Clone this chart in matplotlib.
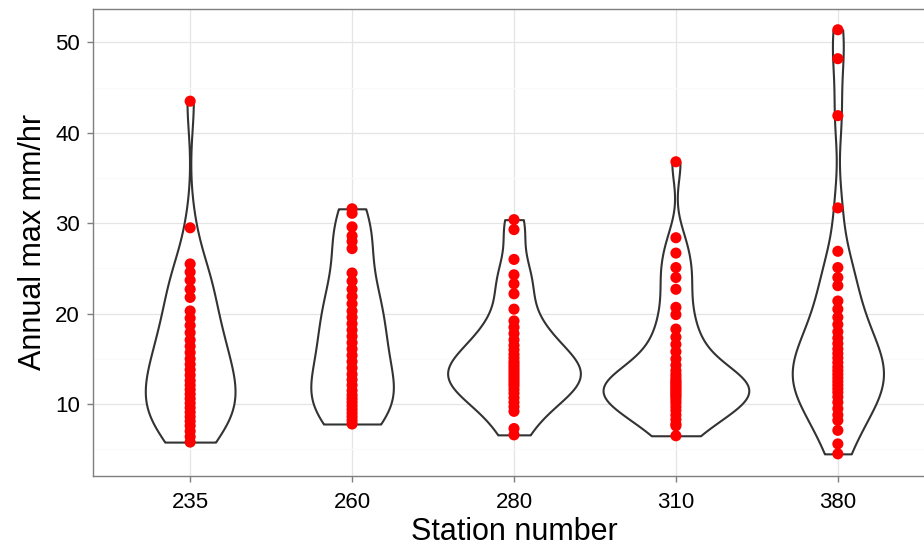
import numpy as np
import matplotlib.pyplot as plt
from matplotlib import cbook

plt.rcParams['font.family'] = ['Liberation Sans', 'DejaVu Sans']

# Annual maximum rainfall intensity (mm/hr) per station
stations = ['235', '260', '280', '310', '380']

s235 = [43.5, 29.5, 25.5, 24.6, 23.7, 22.7, 21.8, 20.3, 19.5, 18.7, 17.9, 17.1,
        16.4, 15.7, 15.0, 14.4, 13.8, 13.2, 12.6, 12.1, 11.6, 11.1, 10.6, 10.1,
        9.6, 9.1, 8.6, 8.1, 7.6, 7.0, 6.4, 5.8]
s260 = [31.6, 31.1, 29.6, 28.6, 28.0, 27.2, 24.5, 23.6, 22.7, 21.9, 21.1, 20.3,
        19.6, 18.9, 18.2, 17.5, 16.8, 16.1, 15.4, 14.7, 14.0, 13.3, 12.7, 12.1,
        11.5, 11.0, 10.6, 10.2, 9.8, 9.4, 9.0, 8.6, 8.2, 7.8]
s280 = [30.4, 29.3, 26.0, 24.3, 23.3, 22.2, 20.5, 19.2, 18.5, 17.8, 17.1, 16.5,
        16.0, 15.5, 15.1, 14.7, 14.4, 14.1, 13.8, 13.5, 13.2, 12.9, 12.6, 12.3,
        12.0, 11.6, 11.2, 10.7, 10.2, 9.7, 9.2, 7.3, 6.6]
s310 = [36.8, 28.4, 26.7, 25.1, 24.0, 22.7, 20.7, 19.9, 18.3, 17.4, 16.6, 15.8,
        15.0, 14.3, 13.7, 13.3, 13.0, 12.7, 12.5, 12.3, 12.1, 11.9, 11.7, 11.5,
        11.3, 11.1, 10.9, 10.7, 10.4, 10.1, 9.7, 9.3, 8.8, 8.3, 7.8, 7.6, 6.5]
s380 = [51.4, 48.2, 41.9, 31.7, 26.9, 25.1, 24.0, 23.1, 21.4, 20.5, 19.6, 18.8,
        18.0, 17.3, 16.7, 16.1, 15.6, 15.1, 14.6, 14.1, 13.7, 13.3, 12.9, 12.5,
        12.1, 11.7, 11.3, 10.8, 10.2, 9.5, 8.8, 8.2, 7.1, 5.6, 4.5]

series = [s235, s260, s280, s310, s380]
positions = np.arange(1, len(stations) + 1)


def nrd0_kde(x, coords):
    # gaussian kernel with R's bw.nrd0 rule of thumb
    x = np.asarray(x)
    sd = x.std(ddof=1)
    iqr = np.subtract(*np.percentile(x, [75, 25]))
    bw = 0.9 * min(sd, iqr / 1.34) * len(x) ** -0.2
    z = (coords[:, None] - x[None, :]) / bw
    return np.exp(-0.5 * z ** 2).sum(axis=1) / (len(x) * bw * np.sqrt(2 * np.pi))


stats = cbook.violin_stats(series, nrd0_kde, points=512)
# equal-area scaling: widths relative to the tallest density of all groups
peak = max(s['vals'].max() for s in stats)
widths = [0.9 * s['vals'].max() / peak for s in stats]

fig = plt.figure(figsize=(9.24, 5.48), dpi=100)
ax = fig.add_axes([93 / 924, 72 / 548, 842 / 924, 467.5 / 548])

parts = ax.violin(stats, positions=positions, widths=widths,
                  showmeans=False, showextrema=False, showmedians=False)
for body in parts['bodies']:
    body.set_facecolor('white')
    body.set_edgecolor('#333333')
    body.set_linewidth(1.5)
    body.set_alpha(1)
    body.set_zorder(2)

for pos, vals in zip(positions, series):
    ax.scatter(np.full(len(vals), pos), vals, s=64, color='red',
               edgecolors='none', zorder=3)

ax.set_xlim(0.4, 5.6)
ax.set_ylim(2.05, 53.75)
ax.set_xticks(positions)
ax.set_xticklabels(stations)
ax.set_yticks([10, 20, 30, 40, 50])
ax.set_yticks([5, 15, 25, 35, 45], minor=True)

ax.set_axisbelow(True)
ax.grid(which='major', color='#e5e5e5', linewidth=0.9)
ax.grid(which='minor', axis='y', color='#fafafa', linewidth=0.9)
for sp in ax.spines.values():
    sp.set_color('#7f7f7f')
    sp.set_linewidth(1.0)
ax.tick_params(which='major', length=4.5, width=1.0, color='#7f7f7f',
               labelsize=16, labelcolor='black')
ax.tick_params(axis='x', which='major', pad=7)
ax.tick_params(axis='y', which='major', pad=5)
ax.tick_params(which='minor', length=0)

ax.set_xlabel('Station number', fontsize=22, labelpad=3)
ax.set_ylabel('Annual max mm/hr', fontsize=22, labelpad=5)

fig.savefig('out.png', dpi=100)
